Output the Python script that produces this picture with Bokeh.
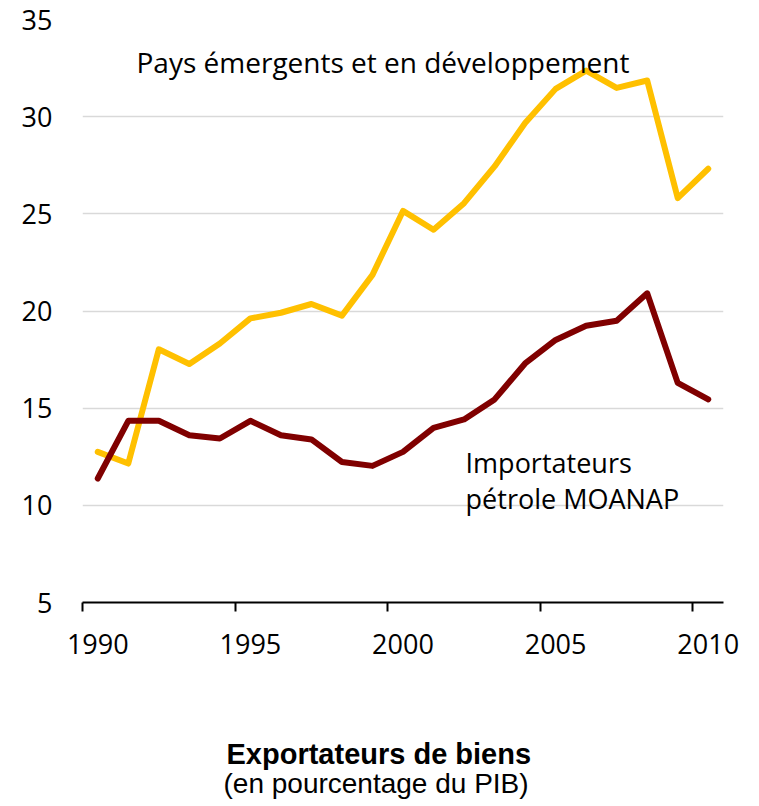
from bokeh.plotting import figure
from bokeh.models import Range1d, LinearAxis, FixedTicker, Label, Title
from bokeh.embed import file_html
from bokeh.resources import INLINE

# ---- data ----
years = list(range(1990, 2011))
emergents = [12.75, 12.15, 18.03, 17.27, 18.33, 19.62, 19.91, 20.36, 19.76, 21.86,
             25.15, 24.18, 25.55, 27.44, 29.67, 31.43, 32.37, 31.48, 31.86, 25.81, 27.32]
moanap = [11.38, 14.35, 14.35, 13.61, 13.44, 14.35, 13.61, 13.39, 12.23, 12.03,
          12.75, 13.99, 14.42, 15.45, 17.30, 18.51, 19.24, 19.50, 20.91, 16.30, 15.45]
x_ticks = [1990, 1995, 2000, 2005, 2010]
y_ticks = [5, 10, 15, 20, 25, 30, 35]

series_name_1 = "Pays émergents et en développement"
series_name_2a = "Importateurs"
series_name_2b = "pétrole MOANAP"
title_text = "Exportateurs de biens"
subtitle_text = "(en pourcentage du PIB)"

FONT = "Open Sans"

p = figure(width=759, height=806,
           x_range=Range1d(1989.5, 2010.5), y_range=Range1d(5, 35),
           output_backend="svg", toolbar_location=None, title=None,
           x_axis_location=None,
           min_border_left=82, min_border_right=36,
           min_border_top=19, min_border_bottom=204)
p.outline_line_color = None
p.background_fill_color = "white"
p.border_fill_color = "white"

# category-edge range for tick marks
p.extra_x_ranges = {"edges": Range1d(1990, 2011)}

tick_axis = LinearAxis(x_range_name="edges", ticker=FixedTicker(ticks=x_ticks))
tick_axis.axis_line_color = "black"
tick_axis.axis_line_width = 2
tick_axis.major_tick_line_color = "black"
tick_axis.major_tick_line_width = 2
tick_axis.major_tick_out = 9
tick_axis.major_tick_in = 0
tick_axis.minor_tick_line_color = None
tick_axis.major_label_overrides = {t: "" for t in x_ticks}
tick_axis.major_label_text_font_size = "1px"
tick_axis.major_label_standoff = 0
p.add_layout(tick_axis, "below")

label_axis = LinearAxis(ticker=FixedTicker(ticks=x_ticks))
label_axis.axis_line_color = None
label_axis.major_tick_line_color = None
label_axis.minor_tick_line_color = None
label_axis.major_tick_out = 0
label_axis.major_tick_in = 0
label_axis.major_label_standoff = 22
label_axis.major_label_text_font = FONT
label_axis.major_label_text_font_size = "27px"
label_axis.major_label_text_color = "black"
p.add_layout(label_axis, "below")

yax = p.yaxis[0]
yax.ticker = FixedTicker(ticks=y_ticks)
yax.axis_line_color = None
yax.major_tick_line_color = None
yax.minor_tick_line_color = None
yax.major_label_standoff = 24
yax.major_label_text_font = FONT
yax.major_label_text_font_size = "27px"
yax.major_label_text_color = "black"

p.xgrid.visible = False
p.ygrid.ticker = FixedTicker(ticks=y_ticks)
p.ygrid.grid_line_color = "#D9D9D9"
p.ygrid.grid_line_width = 1.5

p.line(years, emergents, line_color="#FFC000", line_width=6,
       line_join="round", line_cap="round")
p.line(years, moanap, line_color="#800000", line_width=6,
       line_join="round", line_cap="round")

p.add_layout(Label(x=1991.27, y=32.79, text=series_name_1, text_font=FONT,
                   text_font_size="28px", text_color="black",
                   text_baseline="alphabetic", text_align="left"))
p.add_layout(Label(x=2002.05, y=12.20, text=series_name_2a, text_font=FONT,
                   text_font_size="27px", text_color="black",
                   text_baseline="alphabetic", text_align="left"))
p.add_layout(Label(x=2002.05, y=10.35, text=series_name_2b, text_font=FONT,
                   text_font_size="27px", text_color="black",
                   text_baseline="alphabetic", text_align="left"))

spacer = Title(text=" ", text_font_size="1px", standoff=76)
t1 = Title(text=title_text, text_font="Liberation Sans", text_font_size="29px",
           text_font_style="bold", text_color="black", align="left",
           offset=144, standoff=0)
t2 = Title(text=subtitle_text, text_font="Liberation Sans", text_font_size="28px",
           text_font_style="normal", text_color="black", align="left",
           offset=141, standoff=-8)
p.add_layout(spacer, "below")
p.add_layout(t1, "below")
p.add_layout(t2, "below")

open("out.html", "w").write(file_html(p, INLINE))
